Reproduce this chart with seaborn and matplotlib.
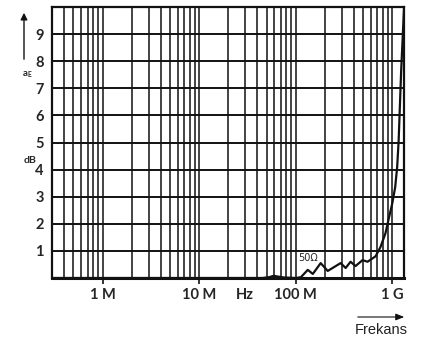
import numpy as np
import pandas as pd
import matplotlib
matplotlib.use("Agg")
import matplotlib.pyplot as plt
from matplotlib.ticker import FixedLocator, NullFormatter
import seaborn as sns

sns.set_style("white")
plt.rcParams['font.family'] = ['Lato', 'DejaVu Sans']

# curve (frequency in Hz, attenuation in dB)
freq = [3e5, 1e6, 1e7, 4.5e7, 5.3e7, 5.9e7, 6.6e7, 7.5e7, 1.0e8, 1.13e8,
        1.33e8, 1.50e8, 1.81e8, 2.14e8, 2.91e8, 3.28e8, 3.69e8, 4.15e8,
        4.91e8, 5.53e8, 6.2e8, 6.69e8, 7.52e8, 8.47e8, 9.08e8, 9.97e8,
        1.068e9, 1.12e9, 1.16e9, 1.23e9, 1.32e9]
atten = [0.0, 0.0, 0.0, 0.0, 0.03, 0.08, 0.05, 0.02, 0.0, 0.03,
         0.3, 0.15, 0.55, 0.26, 0.55, 0.37, 0.6, 0.44,
         0.66, 0.6, 0.72, 0.8, 1.14, 1.65, 2.13, 2.76,
         3.35, 4.1, 5.07, 7.6, 10.0]
df = pd.DataFrame({"f": freq, "a": atten})

major_x = [1e6, 1e7, 1e8, 1e9]
major_lab = ["1 M", "10 M", "100 M", "1 G"]
y_ticks = [1, 2, 3, 4, 5, 6, 7, 8, 9]

fig = plt.figure(figsize=(4.24, 3.45), dpi=100)
ax = fig.add_axes([0.1226, 0.1942, 0.8304, 0.7855])

ax.set_xscale("log")
ax.set_xlim(3e5, 1.32e9)
ax.set_ylim(0, 10)

# grid: every 1..9 per decade, every dB
vlines = [m * 10 ** e for e in range(5, 10) for m in range(1, 10)]
vlines = [v for v in vlines if 3e5 < v < 1.32e9]
for v in vlines:
    ax.axvline(v, color="#111111", lw=1.1, zorder=1)
for y in range(1, 10):
    ax.axhline(y, color="#111111", lw=1.4, zorder=1)

sns.lineplot(data=df, x="f", y="a", color="#111111", lw=1.6, ax=ax, zorder=3)
ax.set_ylim(0, 10)

for s in ax.spines.values():
    s.set_color("#111111")
    s.set_linewidth(1.6)
ax.spines["bottom"].set_linewidth(2.2)

ax.xaxis.set_major_locator(FixedLocator(major_x))
ax.set_xticklabels(major_lab, fontsize=10.5, fontweight="bold")
ax.xaxis.set_minor_formatter(NullFormatter())
ax.xaxis.set_minor_locator(FixedLocator([]))
ax.tick_params(axis="x", which="major", direction="out", length=4, width=1.2,
               color="#111111", bottom=True, pad=3)
ax.set_yticks(y_ticks)
ax.set_yticklabels([str(t) for t in y_ticks], fontsize=10.5, fontweight="bold")
ax.tick_params(axis="y", length=0, pad=6)
ax.set_xlabel("")
ax.set_ylabel("")

ax.text(3.0e7, -0.38, "Hz", fontsize=10.5, fontweight="bold", ha="center",
        va="top", transform=ax.transData)
ax.text(1.05e8, 0.55, "50\u03a9", fontsize=7, ha="left", va="bottom",
        family=["DejaVu Sans"], zorder=4,
        bbox=dict(facecolor="white", edgecolor="none", pad=0.3))

# left side labels
fig.text(30 / 424, 1 - 160 / 345, "dB", fontsize=7.5, fontweight="bold",
         ha="center", va="center")
fig.text(27 / 424, 1 - 75 / 345, "a$_\\mathregular{E}$", fontsize=7,
         fontweight="bold", ha="center", va="center")
fig.add_artist(matplotlib.patches.FancyArrowPatch(
    (24 / 424, 1 - 62 / 345), (24 / 424, 1 - 10 / 345),
    transform=fig.transFigure, arrowstyle="-|>,head_length=4,head_width=2",
    color="#111111", lw=1.0))

# bottom right label
fig.add_artist(matplotlib.patches.FancyArrowPatch(
    (355 / 424, 1 - 317 / 345), (407 / 424, 1 - 317 / 345),
    transform=fig.transFigure, arrowstyle="-|>,head_length=5,head_width=2",
    color="#111111", lw=0.8))
fig.text(408 / 424, 1 - 330 / 345, "Frekans", fontsize=10.5, ha="right",
         va="center", family=["Liberation Sans"], color="#222222")

fig.savefig("out.png", dpi=100)
